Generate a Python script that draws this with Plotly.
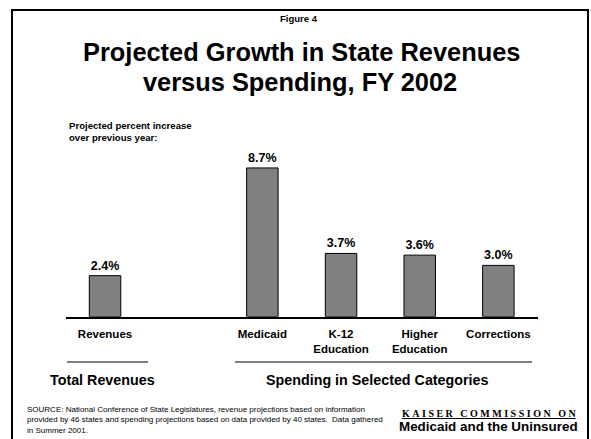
import plotly.graph_objects as go

# Category data
categories = ["Revenues", "Medicaid", "K-12<br>Education", "Higher<br>Education", "Corrections"]
positions = [0, 2, 3, 4, 5]
growth_pct = [2.4, 8.7, 3.7, 3.6, 3.0]

W, H = 591, 439
FONT = "Liberation Sans, Arial, sans-serif"
SERIF = "Liberation Serif, Times New Roman, serif"


def px(x):
    return x / W


def py(y):
    return 1 - y / H


fig = go.Figure()
fig.add_trace(go.Bar(
    x=positions,
    y=growth_pct,
    width=0.4,
    marker=dict(color="#808080", line=dict(color="black", width=1)),
    texttemplate="<b>%{y:.1f}%</b>",
    textposition="outside",
    textfont=dict(family=FONT, size=12.5, color="black"),
    cliponaxis=False,
    hoverinfo="skip",
))

fig.update_layout(
    width=W, height=H,
    margin=dict(l=0, r=0, t=0, b=0),
    paper_bgcolor="white", plot_bgcolor="white",
    showlegend=False,
    font=dict(family=FONT, color="black"),
    xaxis=dict(
        domain=[px(65.7), px(537.7)],
        range=[-0.5, 5.5],
        tickvals=positions,
        ticktext=[f"<b>{c}</b>" for c in categories],
        tickfont=dict(family=FONT, size=11.5, color="black"),
        showline=True, linecolor="black", linewidth=1.5,
        showgrid=False, zeroline=False, ticks="",
        ticklabelstandoff=6,
        fixedrange=True,
    ),
    yaxis=dict(
        domain=[py(316.7), py(145.7)],
        range=[0, 10],
        visible=False,
        fixedrange=True,
    ),
)


def hline(x0, x1, y, width=1):
    return dict(type="line", xref="paper", yref="paper",
                x0=px(x0), x1=px(x1), y0=py(y), y1=py(y),
                line=dict(color="black", width=width))


def bar_rect(x0, x1, y0, y1):
    # solid black strip used for the page frame
    return dict(type="rect", xref="paper", yref="paper",
                x0=px(x0), x1=px(x1), y0=py(y1), y1=py(y0),
                fillcolor="black", line=dict(width=0), layer="above")


shapes = [
    bar_rect(11, 589, 9, 11),    # top edge
    bar_rect(11, 13, 9, 439),    # left edge
    bar_rect(587, 589, 9, 439),  # right edge
    # group rules
    hline(67, 148, 362),
    hline(235, 532, 362),
]
fig.update_layout(shapes=shapes)


def note(text, x, y, size, xanchor="center", yanchor="middle", align="center", family=FONT):
    fig.add_annotation(
        text=text, x=px(x), y=py(y), xref="paper", yref="paper",
        xanchor=xanchor, yanchor=yanchor, align=align, showarrow=False,
        font=dict(family=family, size=size, color="black"))


note("<b>Figure 4</b>", 299, 19, 9.5)
note("<b>Projected Growth in State Revenues</b>", 301, 52, 25.4)
note("<b>versus Spending, FY 2002</b>", 300, 82, 25.4)
note("<b>Projected percent increase<br>over previous year:</b>", 67, 132, 9.6,
     xanchor="left", align="left")
note("<b>Total Revenues</b>", 102, 380, 14.3)
note("<b>Spending in Selected Categories</b>", 377, 380, 14.3)
note("SOURCE: National Conference of State Legislatures, revenue projections based on information<br>"
     "provided by 46 states and spending projections based on data provided by 40 states.  Data gathered<br>"
     "in Summer 2001.", 25, 420, 8.0, xanchor="left", align="left")

nb = "\u00a0"
logo_words = ["KAISER", "COMMISSION", "ON"]
logo_line = (nb * 3).join(nb.join(w) for w in logo_words)
note(f"<b><u>{logo_line}</u></b>", 488.5, 413, 10, family=SERIF)
note("<b>Medicaid and the Uninsured</b>", 488.5, 426, 13.4)

fig.write_html("out.html")
